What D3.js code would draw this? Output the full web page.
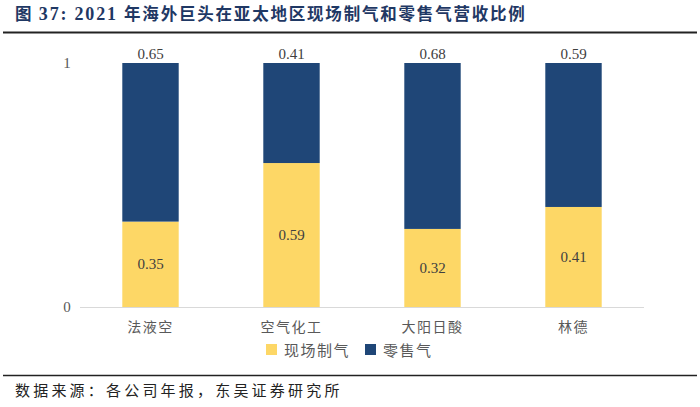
<!DOCTYPE html>
<html><head><meta charset="utf-8">
<script src="https://cdnjs.cloudflare.com/ajax/libs/d3/7.8.5/d3.min.js"></script>
<style>body{margin:0;background:#fff}svg{display:block}</style>
</head><body>
<script>
const categories = ["法液空", "空气化工", "大阳日酸", "林德"];
const onsite = [0.35, 0.59, 0.32, 0.41];
const retail = [0.65, 0.41, 0.68, 0.59];
const seriesNames = ["现场制气", "零售气"];
const yTicks = [0, 1];

const W = 700, H = 407;
const svg = d3.select("body").append("svg").attr("width", W).attr("height", H);
const cjk = "'Noto Sans CJK SC', sans-serif";
const serif = "'Liberation Serif', 'DejaVu Serif', serif";

// title
const title = svg.append("text").attr("x", 15).attr("y", 19.5)
  .attr("font-family", cjk).attr("font-weight", "bold").attr("font-size", 16.5)
  .attr("letter-spacing", 1.8).attr("fill", "#1f3864");
title.append("tspan").text("图 ");
title.append("tspan").attr("font-family", serif).attr("font-size", 18).text("37: 2021 ");
title.append("tspan").text("年海外巨头在亚太地区现场制气和零售气营收比例");
svg.append("line").attr("x1", 3).attr("x2", 697).attr("y1", 32.5).attr("y2", 32.5)
  .attr("stroke", "#222").attr("stroke-width", 2);

const x = d3.scaleBand().domain(categories).range([80, 644]).paddingInner(0.6).paddingOuter(0.3);
const y = d3.scaleLinear().domain([0, 1]).range([307, 63]);

const colors = ["#fdd766", "#1f4677"];
const stackData = categories.map((c, i) => ({cat: c, onsite: onsite[i], retail: retail[i]}));
const stack = d3.stack().keys(["onsite", "retail"])(stackData);

// axis line
svg.append("line").attr("x1", 80).attr("x2", 644).attr("y1", y(0) + 0.5).attr("y2", y(0) + 0.5)
  .attr("stroke", "#d9d9d9").attr("stroke-width", 1.2);

stack.forEach((s, si) => {
  svg.append("g").selectAll("rect").data(s).join("rect")
    .attr("x", d => x(d.data.cat)).attr("width", x.bandwidth())
    .attr("y", d => y(d[1])).attr("height", d => y(d[0]) - y(d[1]))
    .attr("fill", colors[si]);
});

// labels
svg.append("g").selectAll("text").data(stack[0]).join("text")
  .attr("x", d => x(d.data.cat) + x.bandwidth() / 2)
  .attr("y", d => (y(d[0]) + y(d[1])) / 2 + 5)
  .attr("text-anchor", "middle").attr("font-family", serif).attr("font-size", 15)
  .attr("fill", "#404040").text(d => d.data.onsite.toFixed(2));
svg.append("g").selectAll("text").data(stack[1]).join("text")
  .attr("x", d => x(d.data.cat) + x.bandwidth() / 2)
  .attr("y", d => y(d[1]) - 4)
  .attr("text-anchor", "middle").attr("font-family", serif).attr("font-size", 15)
  .attr("fill", "#404040").text(d => d.data.retail.toFixed(2));

// y ticks
svg.append("g").selectAll("text").data(yTicks).join("text")
  .attr("x", 67).attr("y", d => y(d) + 5).attr("text-anchor", "middle")
  .attr("font-family", serif).attr("font-size", 15).attr("fill", "#595959").text(d => d);

// x labels
svg.append("g").selectAll("text").data(categories).join("text")
  .attr("x", d => x(d) + x.bandwidth() / 2).attr("y", 332)
  .attr("text-anchor", "middle").attr("font-family", cjk).attr("font-size", 14)
  .attr("letter-spacing", 1.5)
  .attr("fill", "#595959").text(d => d);

// legend
const leg = svg.append("g");
const legX = [266, 365];
seriesNames.forEach((n, i) => {
  leg.append("rect").attr("x", legX[i]).attr("y", 344).attr("width", 11).attr("height", 11).attr("fill", colors[i]);
  leg.append("text").attr("x", legX[i] + 18).attr("y", 356).attr("font-family", cjk).attr("font-size", 15)
    .attr("letter-spacing", 1.5)
    .attr("fill", "#595959").text(n);
});

// footer
svg.append("line").attr("x1", 3).attr("x2", 697).attr("y1", 375.5).attr("y2", 375.5)
  .attr("stroke", "#222").attr("stroke-width", 1.5);
svg.append("text").attr("x", 15).attr("y", 396).attr("font-family", cjk).attr("font-size", 15)
  .attr("letter-spacing", 3.2)
  .attr("fill", "#222").text("数据来源：各公司年报，东吴证券研究所");
</script>
</body></html>
